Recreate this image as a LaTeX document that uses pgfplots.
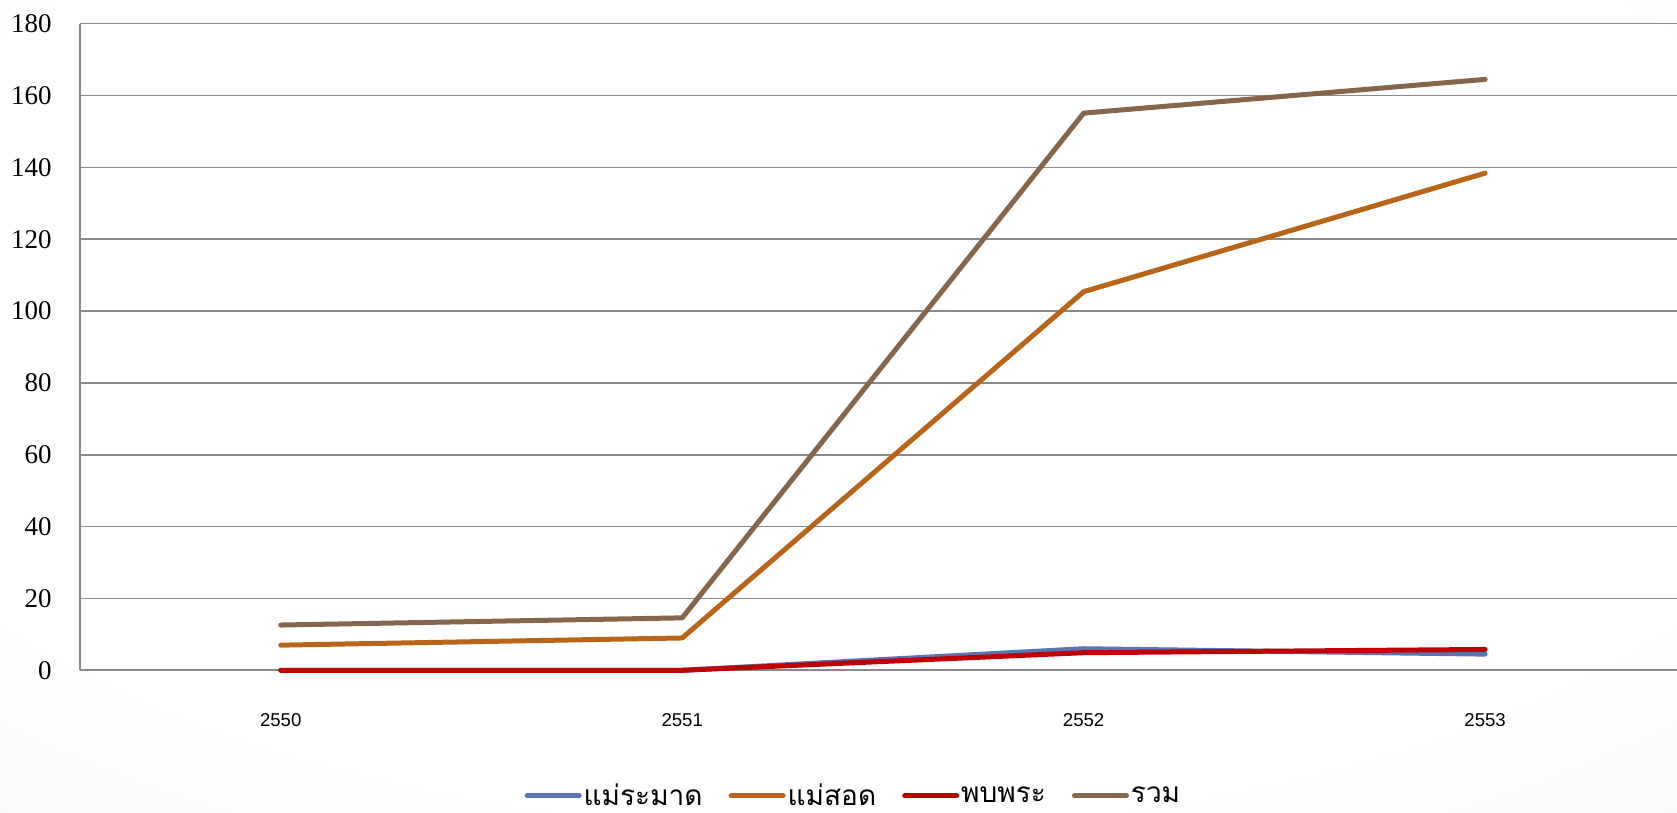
\documentclass[border=0pt]{standalone}
\usepackage{pgfplots}
\pgfplotsset{compat=1.18}
\usepackage{fontspec}
\setmainfont{Liberation Serif}
\newfontfamily\arial{Liberation Sans}
\newfontfamily\thaifont[Script=Thai]{Loma}

\definecolor{cRamat}{HTML}{5B74B4}
\definecolor{cSot}{HTML}{B8651A}
\definecolor{cPhop}{HTML}{C00000}
\definecolor{cRuam}{HTML}{86664A}
\definecolor{cGrid}{HTML}{8A8A8A}

% white middle, light grey towards the edges
\pgfdeclareradialshading{slidebg}{\pgfpoint{0bp}{8bp}}{%
  color(0bp)=(white); color(30bp)=(white); color(48bp)=(black!4); color(60bp)=(black!8); color(75bp)=(black!10)}

\begin{document}
\begin{tikzpicture}
  \shade[shading=slidebg, use as bounding box] (0,0) rectangle (838.5pt,406.5pt);
  \begin{axis}[
    at={(40pt,71.35pt)}, anchor=south west,
    scale only axis, width=798.5pt, height=323.3pt,
    xmin=-0.5, xmax=3.478, ymin=0, ymax=180,
    xtick={0,1,2,3}, xticklabels={2550,2551,2552,2553},
    ytick={0,20,...,180},
    axis x line*=bottom, axis y line*=left,
    axis line style={-, draw=cGrid, line width=0.8pt},
    ymajorgrids, major grid style={draw=cGrid, line width=0.8pt},
    major tick length=0pt,
    /pgf/number format/assume math mode=true,
    yticklabel style={font=\fontsize{13.5}{16}\selectfont, anchor=east, inner sep=0pt, xshift=-14pt},
    xticklabel style={font=\arial\fontsize{9.3}{11}\selectfont, anchor=north, inner sep=0pt, yshift=-21.5pt},
    clip=false,
    every axis plot/.append style={line width=2.5pt, line cap=round, line join=round},
    legend columns=4,
    legend image code/.code={\draw[#1, line cap=round] (0pt,0pt) -- (26pt,0pt);},
    legend style={at={(0.4843,-0.194)}, anchor=center, draw=none, fill=none,
      font=\thaifont\fontsize{14}{16}\selectfont, inner sep=0pt,
      /tikz/every even column/.append style={column sep=12pt},
      nodes={inner sep=1pt}},
  ]
    \addplot[cRamat] coordinates {(0,0) (1,0) (2,6.0) (3,4.5)};
    \addplot[cSot] coordinates {(0,7.0) (1,9.0) (2,105.4) (3,138.4)};
    \addplot[cPhop] coordinates {(0,0) (1,0) (2,4.9) (3,5.8)};
    \addplot[cRuam] coordinates {(0,12.6) (1,14.6) (2,155.1) (3,164.5)};
    \legend{แม่ระมาด, แม่สอด, พบพระ, รวม}
  \end{axis}
\end{tikzpicture}
\end{document}
